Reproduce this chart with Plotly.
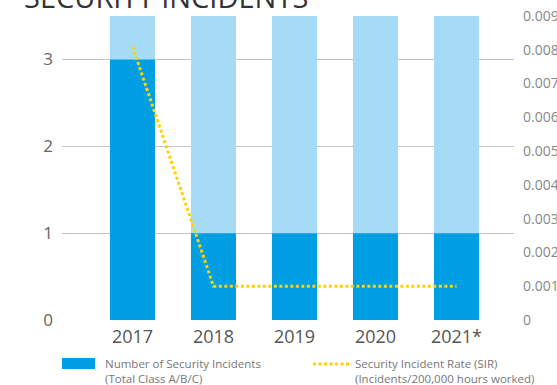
import plotly.graph_objects as go

# ---- data ----
years = ["2017", "2018", "2019", "2020", "2021*"]
incidents = [3, 1, 1, 1, 1]
sir = [0.0081, 0.001, 0.001, 0.001, 0.001]
left_ticks = [0, 1, 2, 3]
right_ticks = [0, 0.001, 0.002, 0.003, 0.004, 0.005, 0.006, 0.007, 0.008, 0.009]
LEFT_MAX = 3.5
RIGHT_MAX = 0.009

W, H = 557, 385
ML, MR, MT, MB = 62, 43, 16, 65
PW, PH = W - ML - MR, H - MT - MB

def px(x):
    return (x - ML) / PW

def py(y):
    return (H - MB - y) / PH

DARK = "#009FE3"
LIGHT = "#A6DBF6"
YELLOW = "#FFD200"
FONT = "Open Sans"

fig = go.Figure()
fig.add_trace(go.Bar(x=years, y=[LEFT_MAX] * len(years), marker=dict(color=LIGHT, line=dict(width=0)),
                     showlegend=False, hoverinfo="skip"))
fig.add_trace(go.Bar(x=years, y=incidents, marker=dict(color=DARK, line=dict(width=0)),
                     name="Number of Security Incidents", showlegend=False))
fig.add_trace(go.Scatter(x=years, y=sir, yaxis="y2", mode="lines",
                         line=dict(color=YELLOW, width=3, dash="3px,2.5px"),
                         name="Security Incident Rate (SIR)", showlegend=False))

fig.update_layout(
    width=W, height=H,
    margin=dict(l=ML, r=MR, t=MT, b=MB, autoexpand=False),
    paper_bgcolor="white", plot_bgcolor="white",
    barmode="overlay", bargap=0.444,
    font=dict(family=FONT),
    xaxis=dict(range=[-0.87, 4.71], showgrid=False, zeroline=False, showline=False, automargin=False,
               ticks="", tickfont=dict(size=18, color="#555555"), ticklabelstandoff=4),
    yaxis=dict(range=[0, LEFT_MAX], tickvals=left_ticks + [LEFT_MAX], automargin=False,
               ticktext=[str(v) for v in left_ticks] + [""],
               showgrid=True, gridcolor="#C4C4C4", gridwidth=1, zeroline=False,
               ticks="", tickfont=dict(size=17, color="#666666"), ticklabelstandoff=8),
    yaxis2=dict(range=[0, RIGHT_MAX], overlaying="y", side="right", tickvals=right_ticks,
                ticktext=["0" if v == 0 else f"{v:.3f}" for v in right_ticks], automargin=False,
                showgrid=False, zeroline=False, ticks="",
                tickfont=dict(size=14, color="#888888"), ticklabelstandoff=8),
    showlegend=False,
)

# title (cut off at top, as in the reference)
fig.add_annotation(text="SECURITY INCIDENTS", xref="paper", yref="paper", x=px(22), y=1,
                   xanchor="left", yanchor="middle", yshift=20, showarrow=False,
                   font=dict(size=29, color="#333333", family=FONT))

# legend
fig.add_shape(type="rect", xref="paper", yref="paper", x0=px(62), x1=px(95), y0=py(369), y1=py(358),
              fillcolor=DARK, line=dict(width=0))
fig.add_shape(type="line", xref="paper", yref="paper", x0=px(313), x1=px(352), y0=py(364), y1=py(364),
              line=dict(color=YELLOW, width=3, dash="3px,2.5px"))
fig.add_annotation(text="Number of Security Incidents<br>(Total Class A/B/C)", xref="paper", yref="paper",
                   x=px(103), y=py(371), xanchor="left", yanchor="middle", align="left", showarrow=False,
                   font=dict(size=11.5, color="#777777"))
fig.add_annotation(text="Security Incident Rate (SIR)<br>(Incidents/200,000 hours worked)", xref="paper",
                   yref="paper", x=px(353), y=py(371), xanchor="left", yanchor="middle", align="left",
                   showarrow=False, font=dict(size=11.5, color="#777777"))

fig.write_html("out.html")
